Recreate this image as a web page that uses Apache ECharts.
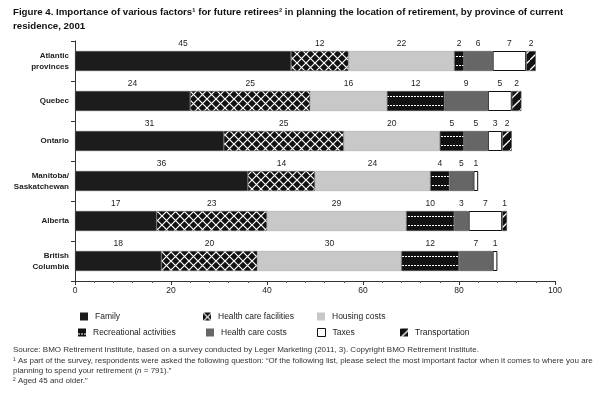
<!DOCTYPE html>
<html><head><meta charset="utf-8">
<script src="https://cdn.jsdelivr.net/npm/echarts@6/dist/echarts.min.js"></script>
<style>html,body{margin:0;padding:0;background:#fff}#c{width:600px;height:395px}</style>
</head><body><div id="c"></div>
<script>
const provinces = ['Atlantic\nprovinces','Quebec','Ontario','Manitoba/\nSaskatchewan','Alberta','British\nColumbia'];
const factors = ['Family','Health care facilities','Housing costs','Recreational activities','Health care costs','Taxes','Transportation'];
const family        = [45,24,31,36,17,18];
const healthFac     = [12,25,25,14,23,20];
const housing       = [22,16,20,24,29,30];
const recreational  = [2,12,5,4,10,12];
const healthCosts   = [6,9,5,5,3,7];
const taxes         = [7,5,3,1,7,1];
const transport     = [2,2,2,0,1,0];
const xTicks = [0,20,40,60,80,100];

function tile(w,h,draw){const c=document.createElement('canvas');c.width=w;c.height=h;const g=c.getContext('2d');draw(g,w,h);return c;}
const hatch = tile(9,9,(g,w,h)=>{g.fillStyle='#111';g.fillRect(0,0,w,h);g.strokeStyle='#fff';g.lineWidth=1.2;
  g.beginPath();g.moveTo(-1,-1);g.lineTo(10,10);g.moveTo(-1,10);g.lineTo(10,-1);g.stroke();});
const dotted = tile(3,20,(g,w,h)=>{g.fillStyle='#111';g.fillRect(0,0,w,h);g.fillStyle='#fff';g.fillRect(0,5,2,1);g.fillRect(0,14,2,1);});
const diag = tile(10,10,(g,w,h)=>{g.fillStyle='#111';g.fillRect(0,0,w,h);g.strokeStyle='#fff';g.lineWidth=1.3;
  g.beginPath();g.moveTo(-2,12);g.lineTo(12,-2);g.stroke();});

const seriesData = [family,healthFac,housing,recreational,healthCosts,taxes,transport];
const fills = ['#1c1c1c',{image:hatch,repeat:'repeat'},'#c8c8c8',{image:dotted,repeat:'repeat',x:0,y:11},'#666666','#ffffff',{image:diag,repeat:'repeat'}];
const borders = ['#555','#555','#aaa','#555','#555','#111','#555'];

const series = factors.map((f,i)=>({
  name:f, type:'bar', stack:'t', barWidth:20,
  data: seriesData[i].map(v=>v===0?null:v),
  itemStyle:{color:fills[i],borderColor:borders[i],borderWidth:i===5?1:0.6},
  label:{show:true,position:'top',distance:3,fontSize:8.5,color:'#222',fontFamily:'Liberation Sans',
    formatter:p=>p.value?String(p.value):''},
  emphasis:{disabled:true}
}));

const legendPos = [[80,312],[203,312],[317,312],[78,328],[206,328],[317,328],[400,328]];
const legends = factors.map((f,i)=>({
  data:[f], left:legendPos[i][0], top:legendPos[i][1], itemWidth:8, itemHeight:8, orient:'horizontal',
  selectedMode:false, icon:'rect', padding:0,
  textStyle:{fontSize:8.5,color:'#222',fontFamily:'Liberation Sans',padding:[0,0,0,2]},
  itemStyle:{borderWidth:i===5?1:0}
}));

const chart = echarts.init(document.getElementById('c'),null,{renderer:'canvas'});
chart.setOption({
  animation:false,
  title:{text:'Figure 4. Importance of various factors¹ for future retirees² in planning the location of retirement, by province of current\nresidence, 2001',
    left:13,top:5,padding:0,
    textStyle:{fontSize:9.7,fontWeight:'bold',fontFamily:'Liberation Sans',color:'#111',lineHeight:14}},
  grid:{left:75,right:45,top:41,bottom:114,containLabel:false},
  xAxis:{type:'value',min:0,max:100,interval:20,
    axisLine:{show:true,lineStyle:{color:'#333',width:1}},
    axisTick:{show:true,length:4,lineStyle:{color:'#333'}},
    minorTick:{show:true,splitNumber:5,length:2,lineStyle:{color:'#555'}},
    splitLine:{show:false},
    axisLabel:{fontSize:8.5,color:'#222',margin:5,fontFamily:'Liberation Sans',
      formatter:v=>xTicks.includes(v)?String(v):''}},
  yAxis:{type:'category',data:provinces,inverse:true,
    axisLine:{show:true,lineStyle:{color:'#333',width:1}},
    axisTick:{show:true,length:4,lineStyle:{color:'#333'}},
    axisLabel:{fontSize:8,fontWeight:'bold',color:'#222',margin:6,lineHeight:11,fontFamily:'Liberation Sans'}},
  legend:legends,
  series:series,
  graphic:[
    {type:'text',left:13,top:345,style:{text:'Source: BMO Retirement Institute, based on a survey conducted by Leger Marketing (2011, 3). Copyright BMO Retirement Institute.\n¹ As part of the survey, respondents were asked the following question: “Of the following list, please select the most important factor when it comes to where you are\nplanning to spend your retirement ({i|n} = 791).”\n² Aged 45 and older.”',
      fontSize:8,fontFamily:'Liberation Sans',fill:'#333',lineHeight:10.3,
      rich:{i:{fontStyle:'italic',fontSize:8,fontFamily:'Liberation Sans',fill:'#333'}}}}
  ]
});
</script></body></html>
